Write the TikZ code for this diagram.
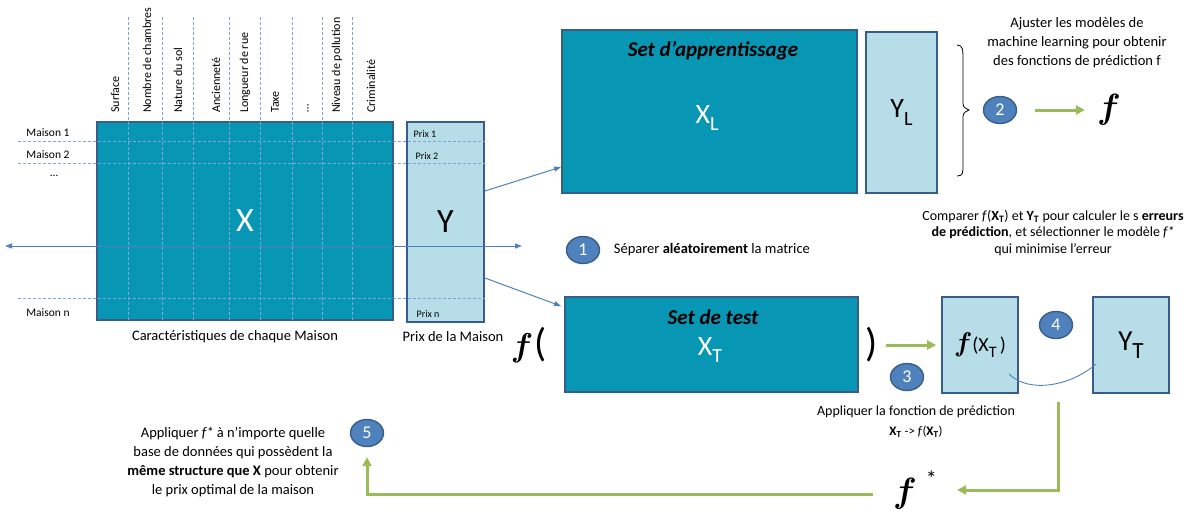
\documentclass[tikz,border=0pt]{standalone}
\usepackage{fontspec}
\setmainfont{Carlito}
\usetikzlibrary{positioning,shapes.geometric,arrows.meta,calc}
\definecolor{mtteal}{HTML}{0896B5}
\definecolor{mtedge}{HTML}{385D8A}
\definecolor{mtlight}{HTML}{B7DEE8}
\definecolor{mtblue}{HTML}{4F81BD}
\definecolor{mtgreen}{HTML}{9BBB59}
\definecolor{mtdash}{HTML}{7EA6D8}
\newcommand{\lowsub}[2][0.72]{\raisebox{-0.28em}{\scalebox{#1}{#2}}}
\newcommand{\predf}[1]{\scalebox{#1}{\boldmath$f$}}

\begin{document}
\begin{tikzpicture}[x=1pt,y=-1pt,
  matbox/.style={draw=mtedge,line width=1.8pt,fill=mtteal,inner sep=0pt},
  colbox/.style={draw=mtedge,line width=1.8pt,fill=mtlight,inner sep=0pt},
  num/.style={ellipse,draw=mtedge,line width=1.4pt,fill=mtblue,text=white,minimum width=33pt,minimum height=27pt,inner sep=0pt,font=\fontsize{18}{18}\selectfont},
  hdr/.style={rotate=90,anchor=west,inner sep=0pt,font=\fontsize{12}{12}\selectfont},
  lbl/.style={inner sep=0pt,font=\fontsize{11.5}{11.5}\selectfont},
  txt/.style={align=center,inner sep=0pt,font=\fontsize{14.5}{19}\selectfont},
  settitle/.style={inner sep=0pt,font=\bfseries\itshape\fontsize{21}{21}\selectfont},
  griddash/.style={mtdash,line width=0.9pt,dash pattern=on 3pt off 2pt},
  blink/.style={mtblue,line width=1pt,-{Triangle[length=7pt,width=5pt]}},
  glink/.style={mtgreen,line width=3pt,-{Triangle[length=9pt,width=9pt]}}]
  \useasboundingbox (0,0) rectangle (1195,512);

  \node[matbox,minimum width=296pt,minimum height=198pt,text=white,font=\fontsize{34}{34}\selectfont] (X) at (245,221) {X};
  \node[colbox,minimum width=77pt,minimum height=200pt,font=\fontsize{34}{34}\selectfont] (Y) at (445.5,222) {Y};
  \foreach \x in {128,162,193,229,260,292,322,352} \draw[griddash] (\x,17) -- (\x,320);
  \foreach \y in {141,163,298} \draw[griddash] (18,\y) -- (485,\y);
  \foreach \x/\t in {115/Surface,147/Nombre de chambres,178/Nature du sol,216/Ancienneté,245/Longueur de rue,275/Taxe,337/Niveau de pollution,371/Criminalité}
    \node[hdr] (hdr\x) at (\x,113) {\t};
  \node[hdr] (hdrdots) at (308,113) {\ldots};
  \node[lbl] (m1) at (48,133) {Maison 1};
  \node[lbl] (m2) at (48,155) {Maison 2};
  \node[lbl] (mdots) at (54,176) {\ldots};
  \node[lbl] (mn) at (48,313) {Maison n};
  \node[lbl,font=\fontsize{10}{10}\selectfont] (p1) at (425,134) {Prix 1};
  \node[lbl,font=\fontsize{10}{10}\selectfont] (p2) at (427,156) {Prix 2};
  \node[lbl,font=\fontsize{10}{10}\selectfont] (pn) at (428,314) {Prix n};
  \node[txt] (capX) at (235,337) {Caractéristiques de chaque Maison};
  \node[txt] (capY) at (453,337) {Prix de la Maison};
  \coordinate (sl) at (5,246);
  \coordinate (sr) at (522,246);
  \draw[blink,{Triangle[length=7pt,width=5pt]}-{Triangle[length=7pt,width=5pt]}] (sl) -- (sr);

  \node[matbox,minimum width=295pt,minimum height=163pt] (L) at (709.5,111.5) {};
  \node[settitle] (Ltitle) at (713,51) {Set d’apprentissage};
  \node[text=white,font=\fontsize{28}{28}\selectfont] (XL) at (707,118) {X\lowsub{L}};
  \node[colbox,minimum width=71pt,minimum height=161pt,font=\fontsize{28}{28}\selectfont] (YL) at (901.5,112.5) {Y\lowsub{L}};
  \draw[line width=0.8pt] (957,45) .. controls (963,45) and (963,50) .. (963,60) -- (963,100) .. controls (963,107) .. (969,110) .. controls (963,113) .. (963,120) -- (963,165) .. controls (963,173) and (963,176) .. (957,176);
  \node[txt] (fitnote) at (1077,43) {Ajuster les modèles de\\machine learning pour obtenir\\des fonctions de prédiction f};
  \node[num] (c2) at (1000,110) {2};
  \node[inner sep=0pt] (fL) at (1109,110) {\predf{3.5}};
  \draw[glink,shorten <=18pt,shorten >=12pt] (c2) -- (fL);

  \node[num] (c1) at (583,250) {1};
  \node[txt,anchor=west,right=13.5pt of c1] (sepnote) {Séparer \textbf{aléatoirement} la matrice};
  \draw[blink] ([yshift=31pt]Y.east) -- ([yshift=-55.5pt]L.west);

  \node[matbox,minimum width=293pt,minimum height=95pt] (T) at (711.5,344.5) {};
  \node[settitle] (Ttitle) at (713,317) {Set de test};
  \node[text=white,font=\fontsize{28}{28}\selectfont] (XT) at (710,350) {X\lowsub{T}};
  \draw[blink] ([yshift=-56pt]Y.east) -- ([xshift=-3pt,yshift=-10pt]T.north west);
  \node[inner sep=0pt] (fopen) at (529,345) {\predf{3.3}\,{\fontsize{40}{40}\selectfont(}};
  \node[inner sep=0pt,font=\fontsize{40}{40}\selectfont] (fclose) at (872,345) {)};

  \node[colbox,minimum width=76pt,minimum height=96pt,font=\fontsize{20}{20}\selectfont] (fXT) at (980,345) {\predf{1.3}(X\lowsub[0.8]{T}\,)};
  \node[colbox,minimum width=76pt,minimum height=96pt,font=\fontsize{29}{29}\selectfont] (YT) at (1131,345) {Y\lowsub[0.8]{T}};
  \draw[glink,shorten <=8pt,shorten >=5pt] (fclose) -- (fXT);
  \draw[mtblue,line width=0.9pt] ($(fXT.south east)+(-10,-20)$) .. controls +(20,20) and +(-25,22) .. ($(YT.south west)+(4,-30)$);
  \node[num] (c3) at (907,377) {3};
  \node[num] (c4) at (1056,325) {4};
  \node[txt,font=\fontsize{14}{16.5}\selectfont] (cmpnote) at (1053,233) {Comparer \textit{f}(\textbf{X}\textsubscript{\textbf{T}}) et \textbf{Y}\textsubscript{\textbf{T}} pour calculer le s \textbf{erreurs}\\\textbf{de prédiction}, et sélectionner le modèle \textit{f*}\\qui minimise l’erreur};
  \node[txt,font=\fontsize{14}{20}\selectfont] (applynote) at (916,422) {Appliquer la fonction de prédiction\\{\fontsize{13}{13}\selectfont\textbf{X}\textsubscript{\textbf{T}} -> \textit{f}(\textbf{X}\textsubscript{\textbf{T}})}};

  \coordinate (gstart) at (1058,402);
  \node[inner sep=0pt] (fstar) at (915,490) {\predf{3.5}\hspace{9pt}\raisebox{16pt}{\fontsize{22}{22}\selectfont *}};
  \draw[glink,shorten >=20pt] (gstart) |- (fstar);
  \node[num] (c5) at (367,433) {5};
  \draw[glink,shorten <=20pt,shorten >=10pt] ([yshift=-4pt]fstar.west) -| (c5);
  \node[txt] (reusenote) at (233,462) {Appliquer \textit{f*} à n’importe quelle\\base de données qui possèdent la\\\textbf{même structure que X} pour obtenir\\le prix optimal de la maison};
\end{tikzpicture}
\end{document}
